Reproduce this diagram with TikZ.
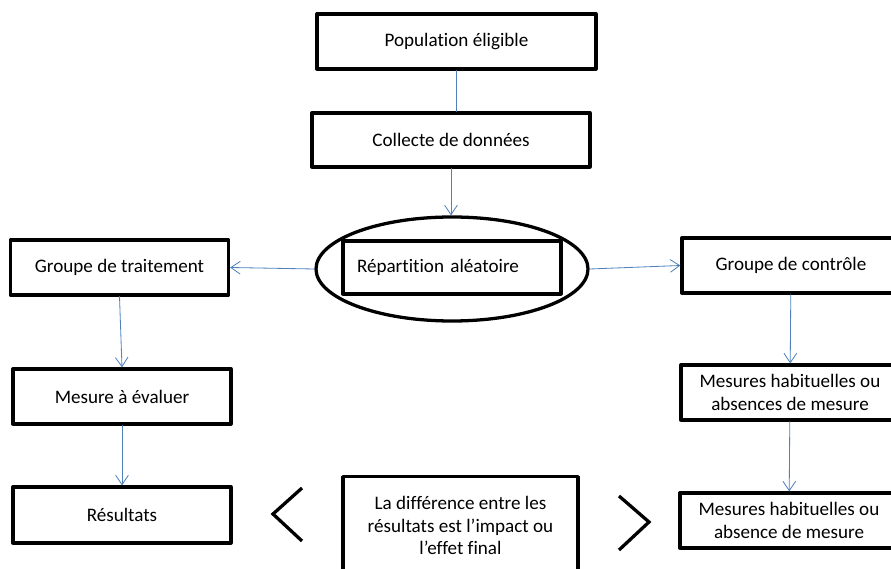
\documentclass[tikz,border=0pt]{standalone}
\usepackage{fontspec}
\setmainfont{Carlito}[Ligatures={NoCommon}]
\usetikzlibrary{arrows.meta,shapes.geometric}
\definecolor{lienbleu}{RGB}{79,129,189}
\tikzset{
	boite/.style={draw, line width=2.8pt, minimum width=218*0.03cm, minimum height=55*0.03cm, align=center, inner sep=0pt},
	lien/.style={draw=lienbleu, line width=0.7pt},
	fleche/.style={lien, -{Straight Barb[length=2.8mm,width=3.8mm,line width=0.7pt]}},
	trait/.style={line width=2.8pt, line cap=butt, line join=miter},
}
\begin{document}
\begin{tikzpicture}[x=0.03cm, y=-0.03cm, font=\fontsize{16.3}{19.2}\selectfont, line join=round, line cap=round]
			\useasboundingbox (0,0) rectangle (891,569);
			\clip (0,0) rectangle (891,569);
			% haut
			\node[boite, minimum width=279*0.03cm] (pop) at (456.5,41.5) {Population éligible};
			\node[boite, minimum width=278*0.03cm, minimum height=54*0.03cm] (coll) at (451,140) {Collecte de données};
			\node[draw, ellipse, line width=2.8pt, inner sep=0pt, minimum width=272*0.03cm, minimum height=104*0.03cm] (ell) at (452,269) {};
			\node[boite, text width=190*0.03cm, align=left, inner xsep=14*0.03cm, minimum height=53*0.03cm] (rep) at (452,267.5) {Répartition aléatoire};
			% groupe de traitement
			\node[boite] (trt) at (119.5,267.5) {Groupe de traitement};
			\node[boite] (mes) at (122,396.5) {Mesure à évaluer};
			\node[boite, minimum height=56*0.03cm] (res) at (122,515) {Résultats};
			% groupe de controle
			\node[boite] (ctl) at (791,265.5) {Groupe de contrôle};
			\node[boite] (hab) at (790,392.5) {Mesures habituelles ou\\absences de mesure};
			\node[boite] (abs) at (789,520.5) {Mesures habituelles ou\\absence de mesure};
			% difference
			\node[boite, anchor=north, minimum width=235*0.03cm, minimum height=98*0.03cm] (diff) at (460.5,475) {La différence entre les\\résultats est l’impact ou\\l’effet final};
			\draw[trait] (302,488) -- (273,514) -- (302,541);
			\draw[trait] (619,496) -- (649,522) -- (619,550);
			% liens
			\draw[lien] (pop.south) -- (pop.south |- coll.north);
			\draw[fleche] (coll.south) -- (coll.south |- ell.north);
			\draw[fleche] (ell.west) -- (trt.east);
			\draw[fleche] (ell.east) -- (ctl.west);
			\draw[fleche] (trt.south) -- (mes.north);
			\draw[fleche] (mes) -- (res);
			\draw[fleche] (ctl) -- (hab);
			\draw[fleche] (hab) -- (abs);
		\end{tikzpicture}
\end{document}
